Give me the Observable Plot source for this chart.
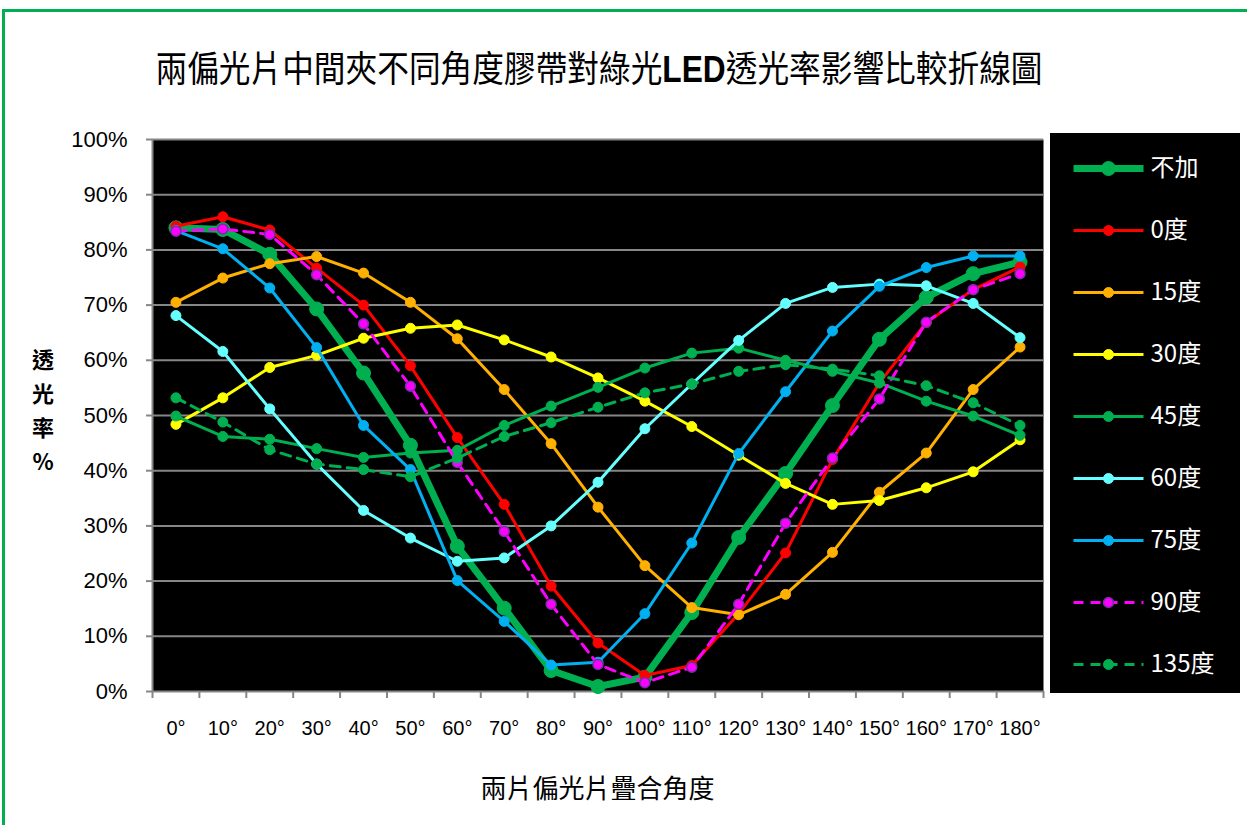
<!DOCTYPE html>
<html>
<head>
<meta charset="utf-8">
<script src="https://cdn.jsdelivr.net/npm/d3@7"></script>
<script src="https://cdn.jsdelivr.net/npm/@observablehq/plot@0.6"></script>
<style>
  body { margin: 0; background: #fff; }
  #chart { position: relative; width: 1247px; height: 825px; overflow: hidden; background: #fff;
           font-family: "Noto Sans CJK TC", "Noto Sans", sans-serif; color: #000; }
  #frame { position: absolute; left: 2px; top: 9px; width: 1300px; height: 900px;
           border: 3px solid #00b050; box-sizing: border-box; }
  #title { position: absolute; left: 0; top: 42px; width: 1198px; text-align: center;
           font-size: 36px; line-height: 48px; white-space: nowrap;
           transform: scaleX(0.88); transform-origin: 599px 50%; }
  #title b { font-family: "Liberation Sans", sans-serif; font-weight: bold; }
  #ytitle { position: absolute; left: 30px; top: 341px; width: 26px; text-align: center;
            font-size: 22px; line-height: 34px; font-weight: bold; }
  #xtitle { position: absolute; left: 0; top: 768px; width: 1195px; text-align: center;
            font-size: 26px; line-height: 38px; }
  #main { position: absolute; left: 0; top: 0; }
  #legend { position: absolute; left: 1050px; top: 133px; }
</style>
</head>
<body>
<div id="chart">
  <div id="frame"></div>
  <div id="main"></div>
  <div id="title">兩偏光片中間夾不同角度膠帶對綠光<b>LED</b>透光率影響比較折線圖</div>
  <div id="ytitle">透<br>光<br>率<br>%</div>
  <div id="xtitle">兩片偏光片疊合角度</div>
  <div id="legend"></div>
</div>
<script>
// Overlap angle of the two polarizers (degrees)
const angles = [0, 10, 20, 30, 40, 50, 60, 70, 80, 90, 100, 110, 120, 130, 140, 150, 160, 170, 180];
// Boundaries between neighbouring angle categories, used for the x tick marks
const angleBounds = [-5, 5, 15, 25, 35, 45, 55, 65, 75, 85, 95, 105, 115, 125, 135, 145, 155, 165, 175, 185];
const yTicks = [0, 10, 20, 30, 40, 50, 60, 70, 80, 90, 100];

// Series names (tape angle between the polarizers)
const seriesNames = ["不加", "0度", "15度", "30度", "45度", "60度", "75度", "90度", "135度"];

// Transmittance (%) for each series at each angle
const tNone  = [84.0, 83.7, 79.2, 69.3, 57.7, 44.6, 26.3, 15.1, 3.8, 0.9, 2.6, 14.3, 27.9, 39.5, 51.8, 63.8, 71.4, 75.7, 77.8];
const t0     = [84.3, 86.0, 83.6, 76.7, 70.0, 59.0, 46.0, 33.9, 19.1, 8.8, 2.9, 4.7, 14.1, 25.1, 42.0, 55.9, 66.8, 72.8, 76.9];
const t15    = [70.5, 74.9, 77.5, 78.8, 75.8, 70.5, 63.9, 54.7, 44.9, 33.4, 22.8, 15.2, 13.9, 17.6, 25.2, 36.1, 43.2, 54.7, 62.4];
const t30    = [48.4, 53.2, 58.7, 60.9, 64.0, 65.8, 66.4, 63.7, 60.6, 56.8, 52.6, 48.0, 42.8, 37.7, 33.9, 34.6, 36.9, 39.8, 45.6];
const t45    = [49.9, 46.2, 45.7, 44.0, 42.4, 43.2, 43.7, 48.2, 51.7, 55.1, 58.6, 61.3, 62.2, 60.0, 58.0, 55.9, 52.6, 49.9, 46.4];
const t60    = [68.1, 61.6, 51.2, 41.2, 32.8, 27.8, 23.6, 24.2, 30.0, 37.9, 47.6, 55.7, 63.6, 70.3, 73.2, 73.8, 73.5, 70.3, 64.1];
const t75    = [83.5, 80.2, 73.1, 62.3, 48.2, 40.2, 20.1, 12.7, 4.8, 5.3, 14.1, 26.9, 43.1, 54.3, 65.3, 73.4, 76.8, 78.9, 78.9];
const t90    = [83.4, 83.8, 82.8, 75.5, 66.6, 55.3, 41.5, 29.0, 15.8, 4.9, 1.6, 4.4, 15.8, 30.5, 42.3, 53.0, 66.9, 72.8, 75.7];
const t135   = [53.2, 48.8, 43.8, 41.2, 40.2, 38.9, 42.3, 46.2, 48.7, 51.5, 54.1, 55.7, 58.0, 59.2, 58.4, 57.2, 55.4, 52.3, 48.2];

const seriesValues = [tNone, t0, t15, t30, t45, t60, t75, t90, t135];

// Line / marker styling per series
const styles = {
  "不加":  { color: "#00b050", width: 7, r: 7 },
  "0度":   { color: "#ff0000", width: 3, r: 5 },
  "15度":  { color: "#ffb000", width: 3, r: 5 },
  "30度":  { color: "#ffff00", width: 3, r: 5 },
  "45度":  { color: "#00b050", width: 3, r: 5 },
  "60度":  { color: "#66ffff", width: 3, r: 5 },
  "75度":  { color: "#00b0f0", width: 3, r: 5 },
  "90度":  { color: "#ff00ff", width: 3, r: 5, dash: "10,7", dotStroke: "#7030a0" },
  "135度": { color: "#00b050", width: 3, r: 5, dash: "10,7" }
};

const rows = seriesNames.flatMap((name, k) =>
  seriesValues[k].map((v, i) => ({ series: name, angle: angles[i], value: v })));

const gridColor = "#868686";
const tickFont = "'Liberation Sans Narrow', 'Liberation Sans', sans-serif";

const seriesMarks = seriesNames.flatMap(name => {
  const st = styles[name];
  const data = rows.filter(d => d.series === name);
  return [
    Plot.line(data, { x: "angle", y: "value", stroke: st.color, strokeWidth: st.width,
                      strokeDasharray: st.dash, strokeLinejoin: "round" }),
    Plot.dot(data, { x: "angle", y: "value", r: st.r, fill: st.color,
                     stroke: st.dotStroke || st.color, strokeWidth: st.dotStroke ? 1.5 : 1 })
  ];
});

const main = Plot.plot({
  width: 1247, height: 825,
  marginLeft: 152, marginRight: 204, marginTop: 139, marginBottom: 134,
  style: { background: "transparent", fontFamily: tickFont, overflow: "visible" },
  x: { type: "linear", domain: [-5, 185], label: null },
  y: { type: "linear", domain: [0, 100], label: null },
  marks: [
    Plot.frame({ fill: "black", stroke: null }),
    Plot.ruleY(yTicks, { stroke: gridColor, strokeWidth: 2 }),
    Plot.ruleX([-5], { stroke: gridColor, strokeWidth: 2 }),
    Plot.axisY(yTicks, { tickSize: 6, tickPadding: 19, tickFormat: d => d + "%",
                         stroke: gridColor, strokeWidth: 2, fill: "black", fontSize: 22, label: null }),
    Plot.axisX(angleBounds, { tickSize: 7, tickFormat: () => "", stroke: gridColor, strokeWidth: 2, label: null }),
    Plot.axisX(angles, { tickSize: 0, tickPadding: 29, tickFormat: d => d + "°",
                         fill: "black", fontSize: 20, label: null }),
    ...seriesMarks
  ]
});
document.getElementById("main").append(main);

// Legend: one row per series with its line sample, marker and name
const legendMarks = seriesNames.flatMap(name => {
  const st = styles[name];
  return [
    Plot.link([name], { x1: 23, x2: 93, y1: d => d, y2: d => d, stroke: st.color,
                        strokeWidth: st.width, strokeDasharray: st.dash }),
    Plot.dot([name], { x: 58, y: d => d, r: st.r, fill: st.color,
                       stroke: st.dotStroke || st.color, strokeWidth: st.dotStroke ? 1.5 : 1 }),
    Plot.text([name], { x: 100, y: d => d, text: d => d, textAnchor: "start", fill: "white",
                        fontSize: 24, fontFamily: "'Noto Sans CJK TC', sans-serif" })
  ];
});

const legend = Plot.plot({
  width: 190, height: 560, margin: 0,
  style: { background: "black", overflow: "visible" },
  x: { type: "linear", domain: [0, 190], range: [0, 190], axis: null },
  y: { type: "point", domain: seriesNames, range: [34, 531], padding: 0, axis: null },
  marks: legendMarks
});
document.getElementById("legend").append(legend);
</script>
</body>
</html>
